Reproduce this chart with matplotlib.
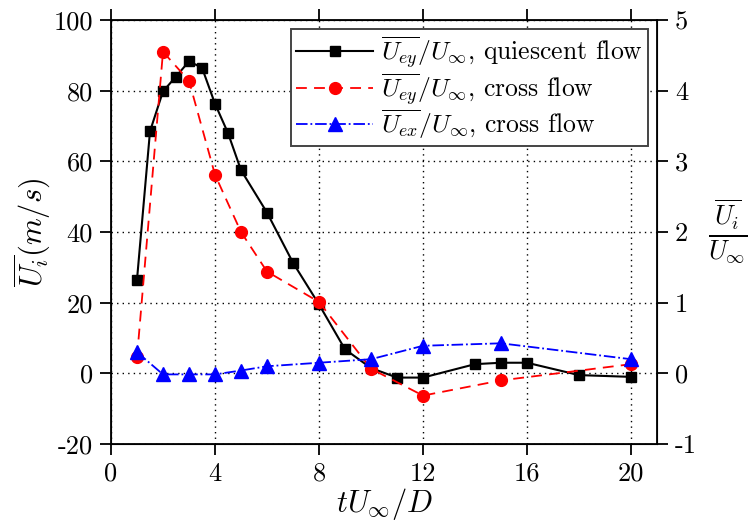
import matplotlib
matplotlib.use("Agg")
import matplotlib.pyplot as plt

plt.rcParams['font.family'] = 'serif'
plt.rcParams['font.serif'] = ['cmr10', 'DejaVu Serif']
plt.rcParams['mathtext.fontset'] = 'cm'
plt.rcParams['axes.unicode_minus'] = False
plt.rcParams['axes.formatter.use_mathtext'] = False

# Quiescent flow, U_ey
xq = [1, 1.5, 2, 2.5, 3, 3.5, 4, 4.5, 5, 6, 7, 8, 9, 10, 11, 12, 14, 15, 16, 18, 20]
yq = [26.5, 68.5, 79.8, 84, 88.3, 86.5, 76.3, 68, 57.5, 45.5, 31.3, 19.5, 6.8, 1.5,
      -1.2, -1.2, 2.6, 3.0, 3.0, -0.5, -1.0]
# Cross flow, U_ey
xc = [1, 2, 3, 4, 5, 6, 8, 10, 12, 15, 20]
yc = [4.5, 91, 82.8, 56.2, 40, 28.8, 20.2, 1.3, -6.3, -2.0, 2.6]
# Cross flow, U_ex
xe = [1, 2, 3, 4, 5, 6, 8, 10, 12, 15, 20]
ye = [6.0, -0.3, -0.3, -0.3, 0.8, 2.0, 3.0, 4.0, 7.8, 8.5, 4.0]

xticks = [0, 4, 8, 12, 16, 20]
yticks = [-20, 0, 20, 40, 60, 80, 100]
rticks = [-1, 0, 1, 2, 3, 4, 5]

fig = plt.figure(figsize=(7.52, 5.32), dpi=100)
ax = fig.add_axes([0.1476, 0.1654, 0.7261, 0.797])

ax.plot(xq, yq, '-', color='black', lw=1.5, marker='s', ms=7,
        label=r'$\overline{U_{ey}}/U_\infty$, quiescent flow')
ax.plot(xc, yc, '--', color='red', lw=1.3, marker='o', ms=8.5, dashes=(6, 4),
        label=r'$\overline{U_{ey}}/U_\infty$, cross flow')
ax.plot(xe, ye, '-.', color='blue', lw=1.3, marker='^', ms=9.5,
        label=r'$\overline{U_{ex}}/U_\infty$, cross flow')

ax.set_xlim(0, 21)
ax.set_ylim(-20, 100)
ax.set_xticks(xticks)
ax.set_yticks(yticks)
ax.grid(True, color='black', linestyle=(0, (1, 3)), lw=1.0)
ax.tick_params(direction='out', top=True, length=8, width=1.3, labelsize=19, pad=5)
for s in ax.spines.values():
    s.set_linewidth(1.3)

ax.set_xlabel(r'$tU_\infty/D$', fontsize=22, labelpad=0)
ax.set_ylabel(r'$\overline{U_i}(m/s)$', fontsize=22, labelpad=0)

ax2 = ax.twinx()
ax2.set_ylim(-1, 5)
ax2.set_yticks(rticks)
ax2.tick_params(direction='out', length=8, width=1.3, labelsize=19, pad=5)
ax2.set_ylabel(r'$\frac{\overline{U_i}}{U_\infty}$', fontsize=27, rotation=0,
               labelpad=22, va='center')

leg = ax.legend(loc='upper right', fontsize=18.5, frameon=True, fancybox=False,
                framealpha=1, edgecolor='#444444', borderpad=0.2, labelspacing=0.0,
                handlelength=3.0, handletextpad=0.3, borderaxespad=0.35)
leg.get_frame().set_linewidth(1.4)

fig.savefig('out.png', dpi=100)
